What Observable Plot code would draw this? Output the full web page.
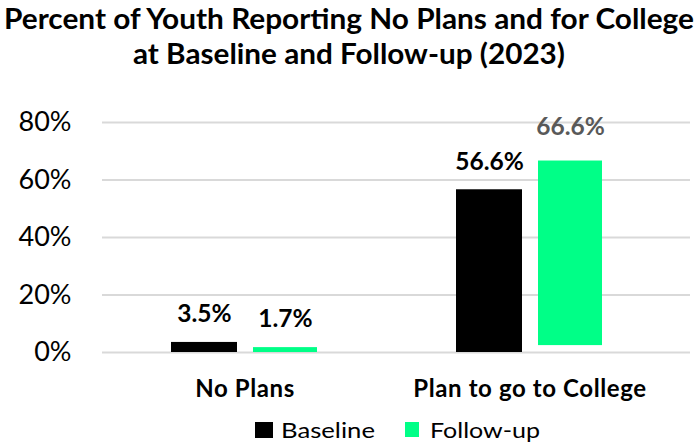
<!DOCTYPE html>
<html>
<head>
<meta charset="utf-8">
<script src="https://cdn.jsdelivr.net/npm/d3@7"></script>
<script src="https://cdn.jsdelivr.net/npm/@observablehq/plot@0.6"></script>
<style>
  html, body { margin: 0; padding: 0; background: #fff; }
  #wrap { width: 698px; font-family: Lato, "Open Sans", sans-serif; }
  svg { display: block; }
  #chart g[aria-label="x-axis tick label"] text { letter-spacing: 0.6px; }
</style>
</head>
<body>
<div id="wrap">
  <svg id="title" width="698" height="80">
    <text x="349" y="29" text-anchor="middle" font-family="Lato" font-weight="bold" font-size="28" textLength="690" lengthAdjust="spacingAndGlyphs">Percent of Youth Reporting No Plans and for College</text>
    <text x="349" y="64" text-anchor="middle" font-family="Lato" font-weight="bold" font-size="28" textLength="432" lengthAdjust="spacingAndGlyphs">at Baseline and Follow-up (2023)</text>
  </svg>
  <div id="chart"></div>
  <svg id="legend" width="698" height="38"></svg>
</div>
<script>
const groups = ["No Plans", "Plan to go to College"];
const series = ["Baseline", "Follow-up"];
const baseline = [3.5, 56.6];
const followUp = [1.7, 66.6];
const followUpStart = [0, 2.4];
const yTicks = [0, 20, 40, 60, 80];

const colors = {"Baseline": "#000000", "Follow-up": "#00ff87"};

const baseData = groups.map((g, i) => ({group: g, value: baseline[i], start: 0}));
const followData = groups.map((g, i) => ({group: g, value: followUp[i], start: followUpStart[i]}));

const fmt = v => v.toFixed(1) + "%";

const chart = Plot.plot({
  width: 698,
  height: 325,
  marginTop: 42,
  marginBottom: 53,
  marginLeft: 102,
  marginRight: 8,
  style: {fontFamily: "Lato, sans-serif", background: "#fff"},
  x: {domain: groups, range: [102, 672], padding: 0, label: null},
  y: {domain: [0, 80], label: null},
  marks: [
    Plot.gridY(yTicks, {stroke: "#d9d9d9", strokeOpacity: 1, strokeWidth: 2}),
    Plot.axisY(yTicks, {tickSize: 0, tickPadding: 31, tickFormat: d => d + "%", fontSize: 27, fill: "#000", label: null}),
    Plot.axisX({tickSize: 0, tickPadding: 27, fontSize: 24, fontWeight: "bold", fill: "#000", label: null}),
    Plot.barY(baseData, {x: "group", y1: "start", y2: "value", fill: colors["Baseline"], insetLeft: 69, insetRight: 150}),
    Plot.barY(followData, {x: "group", y1: "start", y2: "value", fill: colors["Follow-up"], insetLeft: 151, insetRight: 70}),
    Plot.text(baseData, {x: "group", y: "value", text: d => fmt(d.value), dx: -40.5, dy: -28, fontSize: 24.5, fontWeight: "bold", fill: "#000"}),
    Plot.text(followData.slice(0, 1), {x: "group", y: "value", text: d => fmt(d.value), dx: 40.5, dy: -28, fontSize: 24.5, fontWeight: "bold", fill: "#000"}),
    Plot.text(followData.slice(1), {x: "group", y: "value", text: d => fmt(d.value), dx: 40.5, dy: -34, fontSize: 24.5, fontWeight: "bold", fill: "#595959"})
  ]
});
document.getElementById("chart").appendChild(chart);

// legend
const leg = d3.select("#legend");
const items = [
  {name: series[0], sx: 255, sw: 18, tx: 281, tw: 94},
  {name: series[1], sx: 405, sw: 14, tx: 430, tw: 110}
];
items.forEach(it => {
  leg.append("rect").attr("x", it.sx).attr("y", 17).attr("width", it.sw).attr("height", it.name === "Baseline" ? 16 : 15).attr("fill", colors[it.name]);
  leg.append("text").attr("x", it.tx).attr("y", 33).attr("font-family", "Lato").attr("font-size", 22)
    .attr("textLength", it.tw).attr("lengthAdjust", "spacingAndGlyphs").text(it.name);
});
</script>
</body>
</html>
